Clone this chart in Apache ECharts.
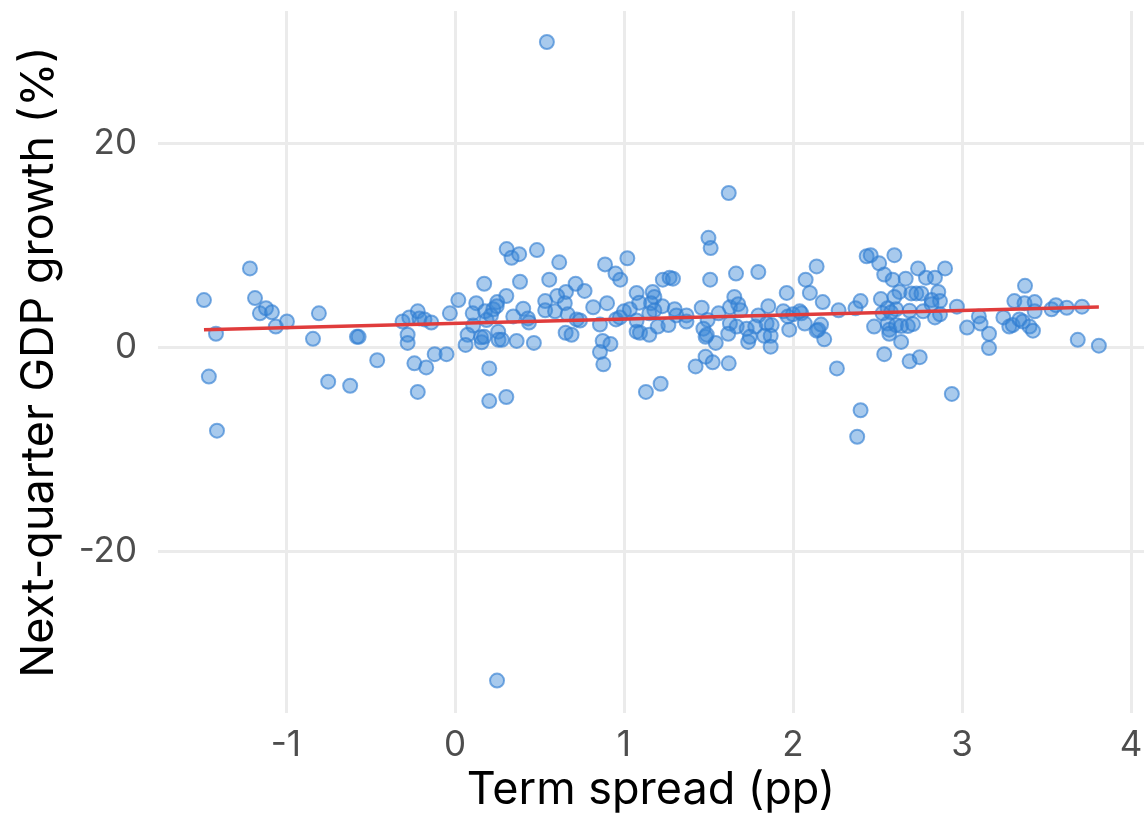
<!DOCTYPE html>
<html>
<head>
<meta charset="utf-8">
<script src="https://cdn.jsdelivr.net/npm/echarts@6/dist/echarts.min.js"></script>
<style>
html,body{margin:0;padding:0;background:#fff;}
#chart{width:1146px;height:826px;}
</style>
</head>
<body>
<div id="chart"></div>
<script>
// Term spread (pp) for each quarter
const spreadX = [
 -1.485,-1.414,-1.456,-1.408,-1.213,-1.183,-1.154,-1.118,-1.083,-1.06,-0.994,-0.84,-0.805,-0.75,-0.62,-0.58,-0.57,-0.46,
 -0.31,-0.27,-0.22,-0.21,-0.18,-0.14,-0.28,-0.28,-0.24,-0.17,-0.12,-0.05,-0.22,-0.03,0.02,
 0.306,0.335,0.38,0.485,0.617,0.888,1.02,0.95,0.978,0.173,0.385,0.558,0.714,0.767,0.657,0.605,0.304,0.25,0.126,0.534,
 0.65,0.818,0.9,0.105,0.178,0.227,0.247,0.404,0.534,0.592,0.667,0.345,0.432,0.438,0.187,0.213,0.72,0.74,0.953,0.976,
 1.0,1.035,0.858,0.108,0.075,0.063,0.154,0.158,0.173,0.256,0.258,0.278,0.365,0.467,0.655,0.69,0.874,0.92,0.858,0.878,
 0.203,0.203,0.304,0.544,0.249,
 1.075,1.075,1.075,1.62,1.5,1.513,1.663,1.795,1.51,1.23,1.27,1.29,1.963,1.17,1.18,1.16,1.227,1.09,1.18,1.15,1.3,1.31,
 1.37,1.37,1.46,1.495,1.56,1.627,1.653,1.676,1.69,1.627,1.667,1.726,1.777,1.795,1.854,1.844,1.874,1.83,1.868,1.868,
 1.943,1.97,1.978,1.735,1.745,1.617,1.543,1.483,1.47,1.49,1.483,1.424,1.525,1.62,1.217,1.13,1.095,1.15,1.2,1.263,
 2.0,2.05,2.07,2.14,2.14,2.075,2.1,2.436,2.46,2.6,2.51,2.54,2.74,2.9,2.59,2.667,2.787,2.84,2.176,2.4,2.52,2.63,2.6,
 2.7,2.73,2.76,2.86,2.82,2.87,2.82,2.97,2.27,2.37,2.56,2.61,2.69,2.77,2.84,2.87,2.04,2.166,2.15,2.185,2.48,2.56,2.57,
 2.57,2.61,2.64,2.68,2.71,2.64,2.54,2.69,2.75,2.26,2.94,2.40,2.38,2.53,2.58,
 3.03,3.1,3.11,3.16,3.16,3.373,3.31,3.37,3.43,3.43,3.53,3.556,3.62,3.71,3.245,3.28,3.3,3.34,3.36,3.4,3.42,3.685,3.81
];
// Next-quarter GDP growth (%) for each quarter
const growthY = [
 4.6,1.3,-2.9,-8.2,7.7,4.8,3.3,3.8,3.4,2.0,2.5,0.8,3.3,-3.4,-3.8,1.0,1.0,-1.3,
 2.5,2.9,3.5,2.8,2.7,2.4,1.2,0.4,-1.6,-2.0,-0.7,-0.7,-4.4,3.3,4.6,
 9.6,8.75,9.1,9.5,8.3,8.1,8.7,7.2,6.6,6.2,6.4,6.6,6.2,5.5,5.4,5.0,5.0,4.4,4.3,4.5,
 4.3,3.9,4.3,3.3,3.5,3.7,4.0,3.75,3.6,3.5,3.2,3.0,2.8,2.4,2.65,3.1,2.7,2.6,2.7,2.9,
 3.5,3.7,2.2,2.1,1.2,0.2,0.95,0.46,1.0,1.5,0.7,0.7,0.6,0.4,1.4,1.2,0.6,0.3,-0.5,-1.7,
 -2.1,-5.3,-4.9,29.9,-32.7,
 5.3,2.6,1.5,15.1,10.7,9.7,7.2,7.35,6.6,6.6,6.8,6.7,5.3,5.4,4.9,4.3,4.0,4.35,3.6,3.3,3.7,3.1,
 3.1,2.5,3.85,2.65,3.3,3.9,4.9,4.2,3.6,2.3,2.0,1.8,2.0,3.1,4.0,2.3,2.15,1.1,1.1,0.03,
 3.5,3.0,1.7,0.5,1.0,1.3,0.4,1.0,1.8,1.2,-0.95,-1.9,-1.5,-1.6,-3.6,-4.4,1.4,1.2,2.0,2.15,
 3.2,3.3,2.3,1.6,7.9,6.6,5.3,8.9,9.0,9.0,8.2,7.1,7.7,7.7,6.6,6.7,6.8,6.8,4.4,4.5,4.7,5.4,4.9,
 5.25,5.25,5.25,5.4,4.6,4.5,4.2,3.95,3.6,3.8,3.8,3.7,3.55,3.5,2.9,3.2,3.5,2.2,1.7,0.75,2.0,2.3,1.7,
 1.3,2.15,2.05,2.05,2.25,0.5,-0.7,-1.4,-1.0,-2.1,-4.6,-6.2,-8.8,3.3,3.4,
 1.9,3.0,2.3,1.3,-0.1,6.0,4.5,4.3,4.4,3.5,3.7,4.1,3.85,3.95,2.9,2.0,2.15,2.7,2.5,2.0,1.6,0.7,0.13
];
// Fitted linear trend endpoints
const fitX = [-1.485, 3.81];
const fitY = [1.68, 3.92];
// Tick positions
const xTicks = [-1, 0, 1, 2, 3, 4];
const yTicks = [-20, 0, 20];

const points = spreadX.map((x, i) => [x, growthY[i]]);
const fitLine = fitX.map((x, i) => [x, fitY[i]]);

const chart = echarts.init(document.getElementById('chart'), null, {renderer: 'canvas'});
const FONT = 'Inter';
chart.setOption({
  animation: false,
  backgroundColor: '#ffffff',
  grid: {left: 158, right: 2, top: 11, bottom: 113, containLabel: false},
  xAxis: {
    type: 'value',
    min: -1.757, max: 4.077,
    name: 'Term spread (pp)',
    nameLocation: 'middle',
    nameGap: 54,
    nameTextStyle: {fontFamily: FONT, fontSize: 45, color: '#000000'},
    axisLine: {show: false},
    axisTick: {show: false, customValues: xTicks},
    axisLabel: {customValues: xTicks, margin: 15, fontFamily: FONT, fontSize: 35, color: '#4d4d4d'},
    splitLine: {show: true, lineStyle: {color: '#ebebeb', width: 3}}
  },
  yAxis: {
    type: 'value',
    min: -35.88, max: 32.94,
    name: 'Next-quarter GDP growth (%)',
    nameLocation: 'middle',
    nameGap: 96,
    nameTextStyle: {fontFamily: FONT, fontSize: 45, color: '#000000'},
    axisLine: {show: false},
    axisTick: {show: false, customValues: yTicks},
    axisLabel: {customValues: yTicks, margin: 21, fontFamily: FONT, fontSize: 35, color: '#4d4d4d'},
    splitLine: {show: true, lineStyle: {color: '#ebebeb', width: 3}}
  },
  series: [
    {
      type: 'scatter',
      data: points,
      symbol: 'circle',
      symbolSize: 14,
      itemStyle: {color: 'rgba(58,134,214,0.55)', borderColor: 'rgba(48,125,210,0.8)', borderWidth: 2}
    },
    {
      type: 'line',
      data: fitLine,
      symbol: 'none',
      lineStyle: {color: '#e03c3c', width: 3.5},
      z: 5
    }
  ]
});
</script>
</body>
</html>
